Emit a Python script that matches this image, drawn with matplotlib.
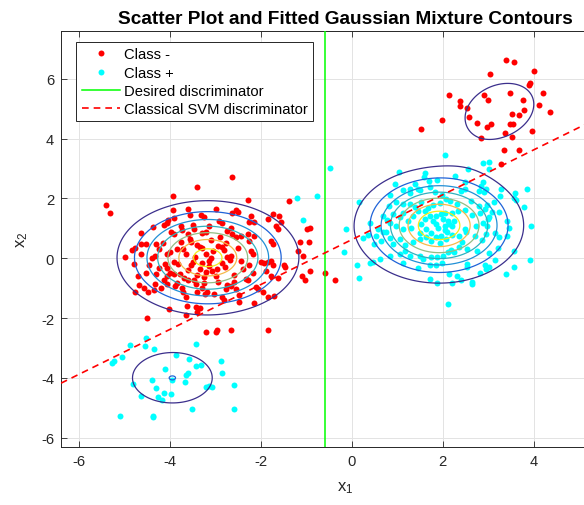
import matplotlib
matplotlib.use("Agg")
import matplotlib.pyplot as plt
import numpy as np

plt.rcParams['font.family'] = ['Liberation Sans', 'DejaVu Sans']
plt.rcParams['axes.unicode_minus'] = False

# class "-" samples (red)
minus_main = [
    (-3.40, 2.38), (-3.93, 2.07), (-5.42, 1.77), (-5.33, 1.52), (-3.93, 1.61), (-3.60, 1.64),
    (-3.31, 1.44), (-3.25, 1.38), (-4.04, 1.28), (-3.91, 1.34), (-3.56, 1.44), (-4.13, 1.13),
    (-4.07, 1.18), (-3.76, 1.09), (-3.73, 0.96), (-3.50, 1.11), (-3.47, 0.97), (-4.37, 1.06),
    (-4.63, 0.83), (-3.99, 0.89), (-3.91, 0.80), (-3.60, 0.80), (-3.56, 0.63), (-3.40, 0.43),
    (-3.35, 0.38), (-3.29, 0.36), (-4.78, 0.33), (-4.83, 0.27), (-4.65, 0.47), (-4.54, 0.49),
    (-4.32, 0.47), (-4.24, 0.30), (-4.15, 0.52), (-4.99, 0.06), (-4.65, 0.13), (-4.39, 0.02),
    (-4.34, 0.09), (-4.07, 0.13), (-4.01, 0.22), (-3.84, 0.30), (-3.71, 0.30), (-3.65, 0.13),
    (-3.49, -0.12), (-3.53, -0.24), (-4.79, -0.20), (-4.46, -0.22), (-4.24, -0.33), (-4.11, -0.18),
    (-4.06, -0.31), (-3.91, -0.11), (-3.82, -0.18), (-4.70, -0.59), (-4.54, -0.49), (-4.32, -0.53),
    (-4.13, -0.73), (-4.07, -0.59), (-4.01, -0.49), (-3.91, -0.53), (-3.78, -0.53), (-3.69, -0.67),
    (-3.60, -0.73), (-3.47, -0.71), (-4.68, -0.89), (-4.57, -1.00), (-4.49, -1.11), (-4.35, -1.07),
    (-4.34, -0.87), (-4.77, -1.11), (-4.21, -0.98), (-4.07, -0.87), (-3.73, -0.98), (-3.71, -1.13),
    (-3.90, -0.92), (-3.84, -0.81), (-3.43, -0.87), (-3.29, -0.98), (-3.19, -1.11), (-3.40, -1.14),
    (-3.25, -0.81), (-3.65, -1.31), (-3.62, -1.59), (-4.02, -1.70), (-3.43, -1.64), (-3.40, -1.78),
    (-3.34, -1.67), (-4.50, -1.98), (-3.21, -2.48), (-3.66, -1.90),
    (-2.64, 2.72), (-2.29, 1.94), (-1.39, 1.90), (-2.55, 1.62), (-2.51, 1.56), (-2.63, 1.53),
    (-2.99, 1.64), (-2.92, 1.26), (-2.85, 1.18), (-2.22, 1.42), (-2.26, 1.20), (-2.15, 1.22),
    (-1.85, 1.31), (-1.73, 1.48), (-1.60, 1.40), (-1.57, 1.20), (-1.67, 1.09), (-1.62, 0.98),
    (-0.99, 0.98), (-0.92, 1.00), (-3.14, 1.09), (-3.21, 0.87), (-2.74, 0.92), (-2.66, 1.03),
    (-2.63, 0.81), (-2.54, 0.70), (-2.44, 0.76), (-2.29, 0.81), (-2.15, 0.76), (-2.27, 0.59),
    (-1.78, 0.59), (-1.74, 0.48), (-1.15, 0.53), (-0.95, 0.56), (-2.85, 0.37), (-2.81, 0.28),
    (-2.77, 0.51), (-2.22, 0.26), (-2.18, 0.14), (-2.66, 0.09), (-2.68, -0.04), (-3.10, 0.00),
    (-3.14, -0.08), (-3.29, -0.16), (-2.00, -0.13), (-1.93, -0.17), (-1.85, -0.11), (-1.78, -0.08),
    (-1.73, -0.24), (-1.50, -0.22), (-1.47, -0.30), (-1.08, 0.07), (-2.79, -0.30), (-2.96, -0.36),
    (-3.07, -0.42), (-3.21, -0.47), (-2.40, -0.36), (-2.26, -0.24), (-2.18, -0.49), (-2.33, -0.69),
    (-1.89, -0.41), (-1.78, -0.58), (-1.63, -0.67), (-1.10, -0.58), (-1.02, -0.71), (-0.60, -0.49),
    (-3.25, -0.63), (-3.03, -1.19), (-2.74, -0.89), (-2.66, -0.93), (-2.55, -1.02), (-2.59, -0.80),
    (-2.77, -1.02), (-2.29, -0.74), (-2.10, -0.97), (-2.07, -1.04), (-1.96, -1.11), (-2.85, -1.30),
    (-2.81, -1.38), (-2.48, -1.24), (-2.48, -1.47), (-1.85, -1.30), (-1.71, -1.27), (-2.15, -1.49),
    (-2.96, -2.41), (-3.00, -2.47), (-2.65, -2.39), (-1.85, -2.39), (-3.23, -1.19),
    (-1.19, 0.26), (-0.93, -0.43), (-0.36, -0.72),
    (-3.05, 0.25), (-2.95, 0.42), (-3.20, 0.15), (-3.10, 0.62), (-2.90, 0.70), (-3.35, -0.35),
    (-3.00, -0.60), (-2.85, -0.15), (-3.45, 0.05), (-2.75, 0.05), (-3.15, -0.25), (-2.95, -0.80),
    (-3.55, 0.55), (-3.30, 0.85), (-2.60, -0.55), (-2.50, 0.35), (-2.45, -0.10), (-3.60, -0.40),
    (-3.75, 0.55), (-3.40, -0.55),
]
minus_small = [
    (3.40, 6.64), (3.56, 6.58), (3.03, 6.15), (4.01, 6.26), (3.91, 5.85), (3.89, 5.78),
    (2.13, 5.47), (2.37, 5.26), (2.38, 5.10), (2.90, 5.47), (2.99, 5.28), (3.49, 5.53),
    (4.21, 5.53), (3.76, 5.30), (4.11, 5.12), (2.53, 5.01), (4.35, 4.88), (3.79, 4.96),
    (3.67, 4.79), (3.52, 4.83), (1.99, 4.63), (2.57, 4.71), (2.75, 4.54), (3.06, 4.48),
    (2.97, 4.40), (3.49, 4.48), (3.54, 4.48), (1.52, 4.31), (3.96, 4.27), (3.36, 4.20),
    (3.52, 4.04), (2.84, 4.01), (3.34, 3.62), (3.68, 3.62), (3.29, 3.15),
]

# class "+" samples (cyan)
plus_main = [
    (-0.47, 3.03), (-1.21, 2.01), (-0.77, 2.07), (-1.07, 1.29), (0.15, 1.87), (-0.13, 0.98),
    (-0.18, 0.20), (0.11, -0.24), (0.15, -0.67), (0.39, -0.16), (0.46, -0.13), (0.61, -0.03),
    (0.39, 1.18), (0.83, 1.18), (0.68, 0.89),
    (2.04, 3.44), (1.03, 2.87), (1.60, 2.84), (1.58, 2.73), (0.96, 2.50), (1.27, 2.33),
    (1.39, 2.50), (1.46, 2.33), (1.70, 2.59), (1.88, 2.62), (0.85, 2.12), (1.13, 2.28),
    (1.27, 2.20), (1.49, 2.29), (1.71, 2.40), (1.82, 2.22), (1.99, 2.11), (0.82, 1.76),
    (0.98, 1.87), (1.13, 1.81), (1.27, 1.81), (1.38, 1.70), (1.53, 1.87), (1.68, 1.67),
    (1.79, 1.78), (1.93, 1.84), (2.08, 1.98), (0.68, 1.42), (0.77, 1.29), (0.90, 1.48),
    (1.05, 1.37), (1.13, 1.53), (1.24, 1.26), (1.35, 1.42), (1.46, 1.59), (1.60, 1.59),
    (1.71, 1.42), (1.85, 1.42), (1.97, 1.48), (0.57, 0.98), (0.76, 0.87), (0.98, 1.09),
    (1.13, 0.98), (1.31, 1.00), (1.53, 1.14), (1.64, 0.98), (1.79, 1.26), (1.90, 1.03),
    (2.04, 1.09), (2.12, 1.26), (0.24, 0.67), (0.35, 0.78), (0.48, 0.48), (0.54, 0.73),
    (0.65, 0.59), (0.83, 0.67), (0.90, 0.48), (1.05, 0.64), (1.16, 0.44), (1.35, 0.53),
    (1.49, 0.64), (1.63, 0.70), (1.75, 0.59), (1.86, 0.70), (1.97, 0.73), (2.08, 0.64),
    (0.83, 0.09), (1.05, 0.14), (1.16, 0.26), (1.27, 0.09), (1.49, 0.09), (1.57, -0.02),
    (1.75, 0.03), (1.88, 0.03), (2.01, 0.09), (2.12, 0.20), (1.13, -0.16), (1.46, -0.33),
    (1.71, -0.21), (1.85, -0.22), (1.99, -0.17), (1.71, -0.69), (1.88, -0.82), (2.12, -1.54),
    (2.88, 3.18), (3.01, 3.22), (2.55, 2.98), (3.01, 2.98), (2.27, 2.76), (2.48, 2.56),
    (2.88, 2.56), (2.96, 2.33), (2.85, 2.42), (2.41, 2.26), (2.50, 2.33), (2.79, 2.26),
    (2.90, 2.22), (3.29, 2.31), (3.60, 2.20), (3.85, 2.33), (3.26, 2.09), (3.56, 2.00),
    (3.61, 1.94), (3.78, 1.70), (2.16, 1.92), (2.31, 1.81), (2.62, 1.92), (2.79, 1.76),
    (2.97, 1.78), (3.12, 1.87), (3.08, 1.56), (3.23, 1.56), (3.02, 1.37), (2.05, 1.53),
    (2.20, 1.51), (2.33, 1.59), (2.49, 1.62), (2.64, 1.44), (2.82, 1.51), (2.93, 1.64),
    (2.13, 1.14), (2.20, 1.07), (2.49, 0.98), (2.52, 0.89), (2.73, 1.07), (2.88, 1.18),
    (2.97, 1.09), (2.99, 1.33), (3.41, 1.26), (3.45, 1.00), (3.95, 1.07), (2.09, 0.87),
    (2.20, 0.78), (2.35, 0.76), (2.43, 0.53), (2.71, 0.76), (2.86, 0.62), (2.95, 0.81),
    (3.15, 0.84), (3.23, 0.70), (3.41, 0.76), (2.18, 0.29), (2.24, 0.20), (2.35, 0.37),
    (2.53, 0.31), (2.75, 0.26), (3.01, 0.18), (3.21, 0.33), (3.15, -0.04), (3.56, 0.26),
    (3.93, -0.04), (2.53, -0.19), (2.53, -0.30), (2.93, -0.24), (2.96, -0.36), (3.01, -0.30),
    (2.82, -0.49), (2.13, -0.52), (2.31, -0.60), (2.40, -0.74), (2.64, -0.78), (2.20, -0.82),
    (2.64, -0.86), (3.40, -0.52), (3.56, -0.30),
    (1.85, 1.15), (2.00, 1.30), (1.75, 0.85), (2.05, 0.95), (1.60, 1.30), (2.25, 1.25),
    (1.95, 0.50), (1.50, 0.85),
]
plus_small = [
    (-4.54, -2.68), (-4.89, -2.89), (-4.55, -2.92), (-4.35, -3.03), (-3.43, -2.87), (-5.24, -3.42),
    (-5.27, -3.50), (-5.05, -3.31), (-3.86, -3.23), (-3.58, -3.37), (-2.88, -3.44), (-2.85, -3.84),
    (-4.12, -3.69), (-3.43, -3.61), (-3.32, -3.57), (-3.65, -3.90), (-3.60, -3.84), (-4.39, -4.07),
    (-3.95, -4.06), (-4.82, -4.20), (-3.67, -4.14), (-4.30, -4.34), (-4.13, -4.50), (-3.98, -4.53),
    (-4.63, -4.59), (-4.26, -4.64), (-4.18, -4.73), (-3.21, -4.31), (-3.14, -4.28), (-3.08, -4.31),
    (-2.60, -4.23), (-3.51, -5.03), (-2.60, -5.03), (-5.11, -5.26), (-4.37, -5.26), (-4.37, -5.31),
]

# fitted mixture: weight, mean, covariance
gm_weights = [0.441, 0.072, 0.432, 0.0663]
gm_means = [(-3.17, 0.02), (3.25, 4.93), (1.92, 1.10), (-3.95, -4.00)]
gm_covs = [
    [[1.00, 0.0], [0.0, 0.912]],
    [[0.606, 0.177], [0.177, 0.90]],
    [[0.836, 0.0], [0.0, 0.899]],
    [[0.551, 0.0], [0.0, 0.501]],
]
contour_levels = [0.01, 0.02, 0.03, 0.04, 0.05, 0.06, 0.07]
level_colors = ['#3b2f8c', '#1f63d8', '#2190d6', '#2fb1bf', '#94bd84', '#f5b94a', '#f2ea1a']

desired_x = -0.6
svm_slope = 0.75
svm_intercept = 0.625

minus = np.array(minus_main + minus_small)
plus = np.array(plus_main + plus_small)

fig = plt.figure(figsize=(5.84, 5.06), dpi=100)
ax = fig.add_axes([0.1045, 0.1146, 0.9726, 0.8221])

gx, gy = np.meshgrid(np.linspace(-6.4, 6.1, 600), np.linspace(-6.31, 7.6, 600))
dens = np.zeros_like(gx)
for w, m, c in zip(gm_weights, gm_means, gm_covs):
    c = np.array(c)
    ci = np.linalg.inv(c)
    dx = gx - m[0]
    dy = gy - m[1]
    q = ci[0, 0] * dx**2 + 2 * ci[0, 1] * dx * dy + ci[1, 1] * dy**2
    dens += w * np.exp(-0.5 * q) / (2 * np.pi * np.sqrt(np.linalg.det(c)))

ax.plot(minus[:, 0], minus[:, 1], 'o', color='#ff0000', ms=4.3, mec='none', label='Class -', zorder=3)
ax.plot(plus[:, 0], plus[:, 1], 'o', color='#00ffff', ms=4.3, mec='none', label='Class +', zorder=3)
ax.contour(gx, gy, dens, levels=contour_levels, colors=level_colors, linewidths=0.9, zorder=4)
ax.axvline(desired_x, color='#00ff00', lw=1.1, label='Desired discriminator', zorder=5)
ax.axline((0, svm_intercept), slope=svm_slope, color='#ff0000', ls=(0, (4, 3)), lw=1.2,
          label='Classical SVM discriminator', zorder=5)

ax.set_xlim(-6.4, 6.1)
ax.set_ylim(-6.31, 7.6)
ax.set_xticks([-6, -4, -2, 0, 2, 4])
ax.set_yticks([-6, -4, -2, 0, 2, 4, 6])
ax.grid(True, color='#e3e3e3', lw=0.7)
ax.set_axisbelow(True)
ax.tick_params(direction='in', length=4, width=0.6, colors='#262626', labelsize=10.6, pad=5,
               top=True, right=True)
for s in ax.spines.values():
    s.set_color('#262626')
    s.set_linewidth(0.7)

ax.set_xlabel(r'$\mathregular{x_1}$', fontsize=12, color='#262626', labelpad=8)
ax.set_ylabel(r'$\mathregular{x_2}$', fontsize=12, color='#262626', labelpad=8)
fig.text(0.591, 0.962, 'Scatter Plot and Fitted Gaussian Mixture Contours', ha='center', va='center',
         fontsize=13.7, fontweight='bold')

leg = ax.legend(loc='upper left', bbox_to_anchor=(0.027, 0.973), fontsize=10.6, frameon=True,
                fancybox=False, framealpha=1, edgecolor='#262626', handlelength=2.6,
                labelspacing=0.29, borderpad=0.35, handletextpad=0.3, borderaxespad=0)
leg.get_frame().set_linewidth(0.7)

fig.savefig('out.png', dpi=100)
